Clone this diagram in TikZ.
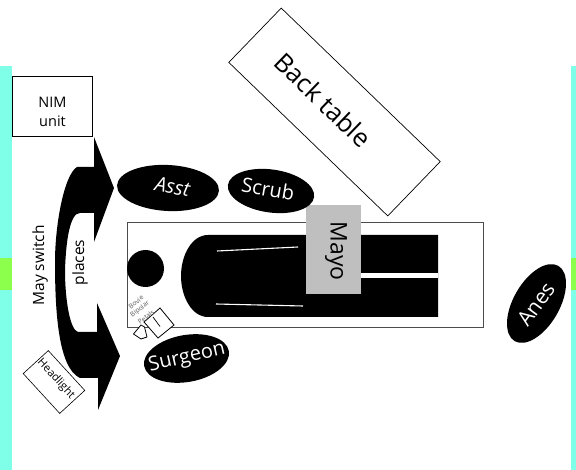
\documentclass[tikz,border=0pt]{standalone}
\usepackage{fontspec}
\setmainfont{Open Sans}
\usetikzlibrary{shapes.geometric}
\tikzset{
  x=1pt,y=-1pt,
  person/.style={ellipse,fill=black,inner sep=0pt},
  wlbl/.style={inner sep=0pt,text=white},
  box/.style={draw=black,fill=white,line width=0.8pt,inner sep=0pt},
  lbl/.style={inner sep=0pt,text=black,align=center},
  tinylbl/.style={inner sep=0pt,text=black!65,font=\fontsize{6.6}{7}\selectfont,rotate=38}
}
\definecolor{aqua}{HTML}{7FFFE8}
\definecolor{lime}{HTML}{8CFF4C}
\begin{document}
\begin{tikzpicture}
\useasboundingbox (0,0) rectangle (576,470);
% side strips
\fill[aqua] (0,66) rectangle (12,470);
\fill[aqua] (571,66) rectangle (576,470);
\fill[lime] (0,258) rectangle (12,290);
\fill[lime] (571,258) rectangle (576,290);
% NIM
\node[box,minimum width=80pt,minimum height=60pt] (nim) at (52,106) {};
\node[lbl,font=\fontsize{14.5}{19.5}\selectfont] (nimt) at (52.5,112) {NIM\\unit};
% arrow
\fill[black] (114,188) -- (94,137) -- (94,167) -- (77,167)
  .. controls (64,175) and (55,225) .. (55,262)
  .. controls (55,310) and (58,368) .. (80,378)
  -- (98,378) -- (98,410) -- (120,356) -- (97,303) -- (97,332) -- (78,332)
  .. controls (70,330) and (65,300) .. (65,270)
  .. controls (66,240) and (70,213) .. (80,213)
  -- (94,213) -- (94,242) -- cycle;
\node[lbl,rotate=90,font=\fontsize{15.5}{17}\selectfont] (sw) at (40,265.5) {May switch};
\node[lbl,rotate=90,font=\fontsize{15.5}{17}\selectfont] (pl) at (80,262.5) {places};
% back table
\node[box,line width=0.7pt,rotate=-44,minimum width=221pt,minimum height=75.5pt] (back) at (334.5,112) {};
\node[lbl,rotate=-44,font=\fontsize{25.5}{28}\selectfont] (backt) at (323,100) {Back table};
% table
\draw[black!70,line width=0.9pt,fill=white] (127,222) rectangle (483,327);
\node[circle,fill=black,minimum size=37pt,inner sep=0pt] (head) at (145.5,268.5) {};
\fill[black] (438,235) -- (208,235) .. controls (192,235) and (181,255) .. (181,276)
  .. controls (181,297) and (192,317) .. (208,317) -- (438,317) -- cycle;
\fill[white] (361,273) rectangle (438,278);
\draw[white,line width=1.1pt] (217,251) -- (298,247);
\draw[white,line width=1.1pt] (216,304) -- (303,306);
\node[fill=black!25,minimum width=55pt,minimum height=89pt,inner sep=0pt] (mayo) at (333.5,249.5) {};
\node[lbl,rotate=-90,font=\fontsize{23}{25}\selectfont] (mayot) at (336,251) {Mayo};
% people
\node[person,rotate=-3,minimum width=102pt,minimum height=46pt] (asst) at (168,188) {};
\node[wlbl,rotate=-10,font=\fontsize{20}{22}\selectfont\itshape] (asstt) at (172.5,187) {Asst};
\node[person,rotate=-8,minimum width=87pt,minimum height=43pt] (scrub) at (271,191) {};
\node[wlbl,rotate=-10,font=\fontsize{20}{22}\selectfont] (scrubt) at (268,189) {Scrub};
\node[person,rotate=10,minimum width=86pt,minimum height=47pt] (surgeon) at (186.5,358.5) {};
\node[wlbl,rotate=13,font=\fontsize{20}{22}\selectfont] (surgeont) at (187,358) {Surgeon};
\node[person,rotate=60,minimum width=87pt,minimum height=46pt] (anes) at (536.5,303.5) {};
\node[wlbl,rotate=54,font=\fontsize{21}{23}\selectfont] (anest) at (536,304) {Anes};
% headlight
\node[box,rotate=-47.5,minimum width=54pt,minimum height=34pt,line width=0.6pt] (hl) at (54,382) {};
\node[lbl,rotate=-47.5,font=\fontsize{11}{12}\selectfont] (hlt) at (56,379) {Headlight};
% pedals
\coordinate (pa) at (153,317); \coordinate (pb) at (160,326.5);
\coordinate (r1) at (160,308); \coordinate (r2) at (174,325); \coordinate (r3) at (158,338); \coordinate (r4) at (144,322);
\draw[black,fill=white,line width=0.8pt] (r1) -- (r2) -- (r3) -- (r4) -- cycle;
\draw[black,line width=0.7pt] (pa) -- (pb);
\coordinate (s1) at (141,325); \coordinate (s2) at (133.5,334); \coordinate (s3) at (141,339); \coordinate (s4) at (147,337); \coordinate (s5) at (144.5,327);
\draw[black,fill=white,line width=0.8pt,line join=round] (s1) -- (s2) -- (s3) -- (s4) -- (s5) -- cycle;
\node[tinylbl] (bo) at (136,302) {Bovie};
\node[tinylbl] (bi) at (140,309.5) {Bipolar};
\node[tinylbl] (pe) at (146,317) {Petals};
\end{tikzpicture}
\end{document}
